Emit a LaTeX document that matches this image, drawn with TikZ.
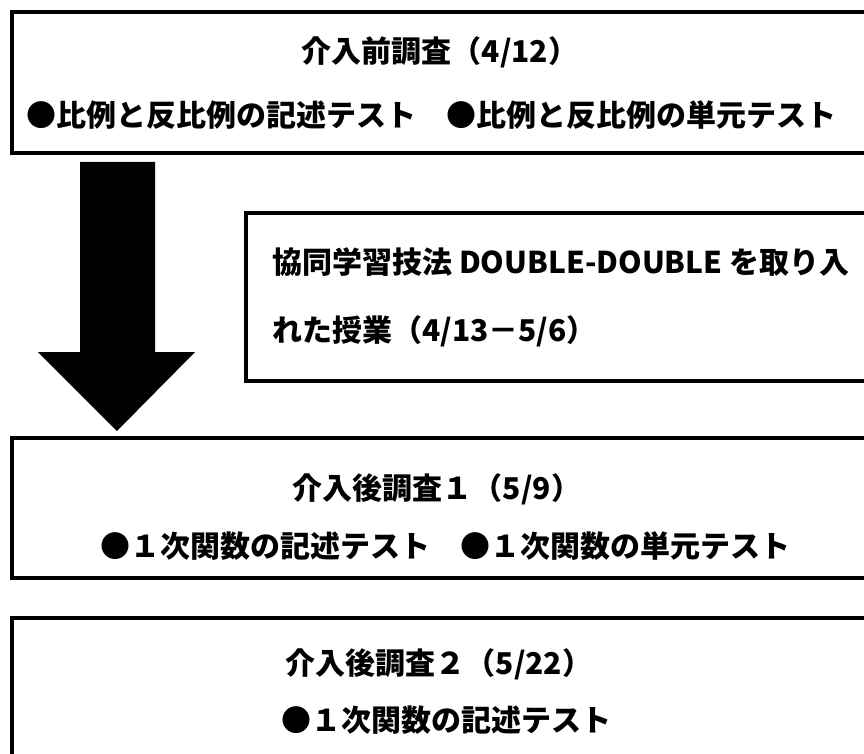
\documentclass[tikz,border=0pt]{standalone}
\usepackage{fontspec}
\setmainfont{Noto Sans CJK JP}
\tikzset{
  box/.style={draw=black, line width=3.5pt, fill=white},
  txt/.style={font=\bfseries\fontsize{30}{32}\selectfont, inner sep=0pt, anchor=center},
  ltxt/.style={txt, anchor=west},
}
\begin{document}
\begin{tikzpicture}[x=1pt,y=-1pt]
\useasboundingbox (0,0) rectangle (864,754);
\clip (0,0) rectangle (864,754);
% boxes
\draw[box] (12,12) rectangle (872,153);
\draw[box] (246,213) rectangle (872,381);
\draw[box] (12,438) rectangle (872,578);
\draw[box] (12,618) rectangle (872,770);
% block arrow
\fill[black] (80,162) -- (155,162) -- (155,352) -- (195,352) -- (117,431) -- (38,352) -- (80,352) -- cycle;
% texts
\node[txt] (t1a) at (440,52) {介入前調査（4/12）};
\node[txt] (t1b) at (431,115) {●比例と反比例の記述テスト　●比例と反比例の単元テスト};
\node[ltxt] (t2a) at (272,262) {協同学習技法 DOUBLE-DOUBLE を取り入};
\node[ltxt] (t2b) at (272,331) {れた授業（4/13－5/6）};
\node[txt] (t3a) at (437,489) {介入後調査１（5/9）};
\node[txt] (t3b) at (445,546) {●１次関数の記述テスト　●１次関数の単元テスト};
\node[txt] (t4a) at (439,664) {介入後調査２（5/22）};
\node[txt] (t4b) at (446,720) {●１次関数の記述テスト};
\end{tikzpicture}
\end{document}
